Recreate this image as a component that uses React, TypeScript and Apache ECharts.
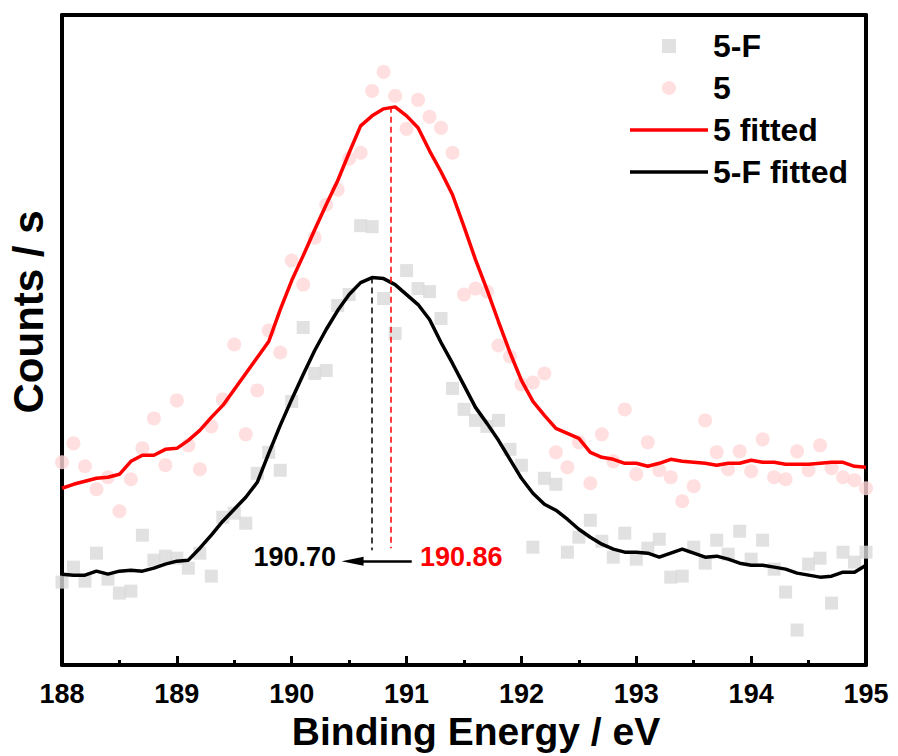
import React, { useEffect, useRef } from 'react';
import * as echarts from 'echarts';

// Binding energy grid (eV)
const energies = [
  188.0, 188.1, 188.2, 188.3, 188.4, 188.5, 188.6, 188.7, 188.8, 188.9,
  189.0, 189.1, 189.2, 189.3, 189.4, 189.5, 189.6, 189.7, 189.8, 189.9,
  190.0, 190.1, 190.2, 190.3, 190.4, 190.5, 190.6, 190.7, 190.8, 190.9,
  191.0, 191.1, 191.2, 191.3, 191.4, 191.5, 191.6, 191.7, 191.8, 191.9,
  192.0, 192.1, 192.2, 192.3, 192.4, 192.5, 192.6, 192.7, 192.8, 192.9,
  193.0, 193.1, 193.2, 193.3, 193.4, 193.5, 193.6, 193.7, 193.8, 193.9,
  194.0, 194.1, 194.2, 194.3, 194.4, 194.5, 194.6, 194.7, 194.8, 194.9,
  195.0,
];

// Raw data, 5-F (grey squares), arbitrary units
const counts5F = [
  83, 98, 84, 112, 86, 72, 74, 130, 105, 109,
  107, 97, 112, 89, 148, 152, 142, 192, 213, 195,
  264, 338, 292, 295, 360, 371, 440, 439, 367, 332,
  395, 377, 374, 347, 277, 256, 245, 239, 245, 216,
  200, 118, 187, 181, 113, 128, 145, 124, 108, 132,
  106, 117, 126, 88, 89, 118, 102, 125, 111, 134,
  106, 125, 96, 73, 35, 101, 107, 62, 113, 103,
  113,
];

// Raw data, 5 (pink circles)
const counts5 = [
  203, 222, 199, 176, 188, 154, 186, 217, 247, 200,
  265, 220, 196, 239, 266, 321, 231, 275, 335, 313,
  405, 381, 428, 461, 476, 507, 513, 575, 594, 570,
  537, 566, 549, 538, 513, 371, 377, 374, 320, 309,
  281, 283, 292, 213, 198, 223, 182, 231, 204, 256,
  191, 223, 195, 188, 164, 179, 245, 213, 196, 214,
  194, 226, 188, 186, 214, 195, 220, 197, 188, 185,
  177,
];

// Fitted curve, 5 (red)
const fit5 = [
  177, 181, 184, 187, 188, 191, 204, 210, 210, 216,
  217, 225, 235, 248, 260, 276, 292, 308, 324, 356,
  385, 410, 436, 461, 485, 513, 540, 550, 557, 559,
  550, 538, 515, 494, 471, 439, 406, 376, 344, 313,
  285, 264, 250, 237, 232, 227, 213, 208, 206, 202,
  202, 199, 202, 206, 204, 203, 202, 200, 202, 202,
  205, 203, 203, 201, 201, 201, 202, 203, 203, 199,
  198,
];

// Fitted curve, 5-F (black)
const fit5F = [
  91, 90, 90, 94, 91, 94, 95, 94, 97, 101,
  104, 105, 117, 130, 144, 156, 168, 183, 212, 240,
  266, 291, 315, 336, 355, 371, 383, 388, 387, 381,
  371, 361, 346, 323, 302, 280, 258, 242, 225, 206,
  187, 172, 161, 155, 146, 136, 128, 121, 116, 113,
  113, 112, 108, 112, 116, 112, 108, 109, 106, 102,
  100, 100, 98, 96, 92, 90, 88, 89, 93, 93,
  100,
];

// Peak positions (eV) and annotation
const peak5F = 190.7;
const peak5 = 190.86;
const peak5FTop = 388;
const peak5Top = 559;
const dropBottom5F = 115;
const dropBottom5 = 117;
const arrowStart = 191.045;
const arrowEnd = 190.53;
const arrowLevel = 104;
const peakLabel5F = '190.70';
const peakLabel5 = '190.86';

const xMin = 188;
const xMax = 195;
const yMin = 0;
const yMax = 651;

const FONT = "'Liberation Sans', Arial, Helvetica, sans-serif";
const SQUARE_ICON = 'path://M0,0H14V14H0Z';
const LINE_ICON = 'path://M0,0H78V3.5H0Z';

export default function App() {
  const ref = useRef<HTMLDivElement>(null);

  useEffect(() => {
    document.body.style.margin = '0';
    const chart = echarts.init(ref.current!, null, { renderer: 'svg' });

    const frameAxisLine = { show: true, onZero: false, lineStyle: { color: '#000', width: 4 } };

    const option: any = {
      animation: false,
      backgroundColor: '#fff',
      grid: { left: 62, top: 15, right: 32, bottom: 91, containLabel: false },
      legend: {
        orient: 'vertical',
        left: 625,
        top: 25,
        itemWidth: 78,
        itemHeight: 14,
        itemGap: 10,
        symbolKeepAspect: true,
        textStyle: { fontSize: 32, fontWeight: 'bold', color: '#000', fontFamily: FONT },
        data: [
          { name: '5-F', icon: SQUARE_ICON },
          { name: '5', icon: 'circle' },
          { name: '5 fitted', icon: LINE_ICON },
          { name: '5-F fitted', icon: LINE_ICON },
        ],
      },
      xAxis: [
        {
          type: 'value',
          min: xMin,
          max: xMax,
          interval: 1,
          position: 'bottom',
          axisLine: frameAxisLine,
          axisTick: { show: true, inside: true, length: 9, lineStyle: { color: '#000', width: 3 } },
          minorTick: { show: true, splitNumber: 2, length: 5, lineStyle: { color: '#000', width: 3 } },
          axisLabel: { fontSize: 27, fontWeight: 'bold', color: '#000', margin: 15, fontFamily: FONT },
          splitLine: { show: false },
          minorSplitLine: { show: false },
          name: 'Binding Energy / eV',
          nameLocation: 'middle',
          nameGap: 37,
          nameTextStyle: {
            fontSize: 39,
            fontWeight: 'bold',
            color: '#000',
            fontFamily: FONT,
            padding: [0, 0, 0, 24],
          },
        },
        {
          type: 'value',
          min: xMin,
          max: xMax,
          position: 'top',
          axisLine: frameAxisLine,
          axisTick: { show: false },
          axisLabel: { show: false },
          splitLine: { show: false },
        },
      ],
      yAxis: [
        {
          type: 'value',
          min: yMin,
          max: yMax,
          position: 'left',
          axisLine: frameAxisLine,
          axisTick: { show: false },
          axisLabel: { show: false },
          splitLine: { show: false },
        },
        {
          type: 'value',
          min: yMin,
          max: yMax,
          position: 'right',
          axisLine: frameAxisLine,
          axisTick: { show: false },
          axisLabel: { show: false },
          splitLine: { show: false },
        },
      ],
      series: [
        {
          name: '5-F',
          type: 'scatter',
          symbol: 'rect',
          symbolSize: 13,
          itemStyle: { color: '#d9d9d9' },
          data: energies.map((e, i) => [e, counts5F[i]]),
          z: 2,
        },
        {
          name: '5',
          type: 'scatter',
          symbol: 'circle',
          symbolSize: 14,
          itemStyle: { color: '#ffd7d7' },
          data: energies.map((e, i) => [e, counts5[i]]),
          z: 2,
        },
        {
          name: '5 fitted',
          type: 'line',
          symbol: 'none',
          showSymbol: false,
          smooth: false,
          lineStyle: { color: '#ff0000', width: 3.5 },
          itemStyle: { color: '#ff0000' },
          data: energies.map((e, i) => [e, fit5[i]]),
          z: 3,
          markLine: {
            silent: true,
            symbol: ['none', 'none'],
            label: { show: false },
            lineStyle: { color: '#ff0000', width: 1.5, type: [6, 4] },
            data: [[{ coord: [peak5, peak5Top] }, { coord: [peak5, dropBottom5] }]],
          },
        },
        {
          name: '5-F fitted',
          type: 'line',
          symbol: 'none',
          showSymbol: false,
          smooth: false,
          lineStyle: { color: '#000', width: 3.5 },
          itemStyle: { color: '#000' },
          data: energies.map((e, i) => [e, fit5F[i]]),
          z: 3,
          markLine: {
            silent: true,
            symbol: ['none', 'none'],
            label: { show: false },
            lineStyle: { color: '#000', width: 1.5, type: [6, 4] },
            data: [
              [{ coord: [peak5F, peak5FTop] }, { coord: [peak5F, dropBottom5F] }],
              [
                {
                  coord: [arrowStart, arrowLevel],
                  symbol: 'none',
                  lineStyle: { type: 'solid', width: 2.5, color: '#000' },
                },
                {
                  coord: [arrowEnd, arrowLevel],
                  symbol: 'triangle',
                  symbolSize: [9, 22],
                  lineStyle: { type: 'solid', width: 2.5, color: '#000' },
                },
              ],
            ],
          },
        },
      ],
      graphic: [
        {
          type: 'text',
          x: 28,
          y: 312,
          rotation: Math.PI / 2,
          style: {
            text: 'Counts / s',
            fontSize: 42,
            fontWeight: 'bold',
            fontFamily: FONT,
            fill: '#000',
            align: 'center',
            verticalAlign: 'middle',
          },
        },
        {
          type: 'text',
          x: 336,
          y: 557,
          style: {
            text: peakLabel5F,
            fontSize: 27,
            fontWeight: 'bold',
            fontFamily: FONT,
            fill: '#000',
            align: 'right',
            verticalAlign: 'middle',
          },
        },
        {
          type: 'text',
          x: 420,
          y: 557,
          style: {
            text: peakLabel5,
            fontSize: 27,
            fontWeight: 'bold',
            fontFamily: FONT,
            fill: '#ff0000',
            align: 'left',
            verticalAlign: 'middle',
          },
        },
      ],
    };

    chart.setOption(option);
    return () => chart.dispose();
  }, []);

  return <div ref={ref} style={{ width: 898, height: 756 }} />;
}
